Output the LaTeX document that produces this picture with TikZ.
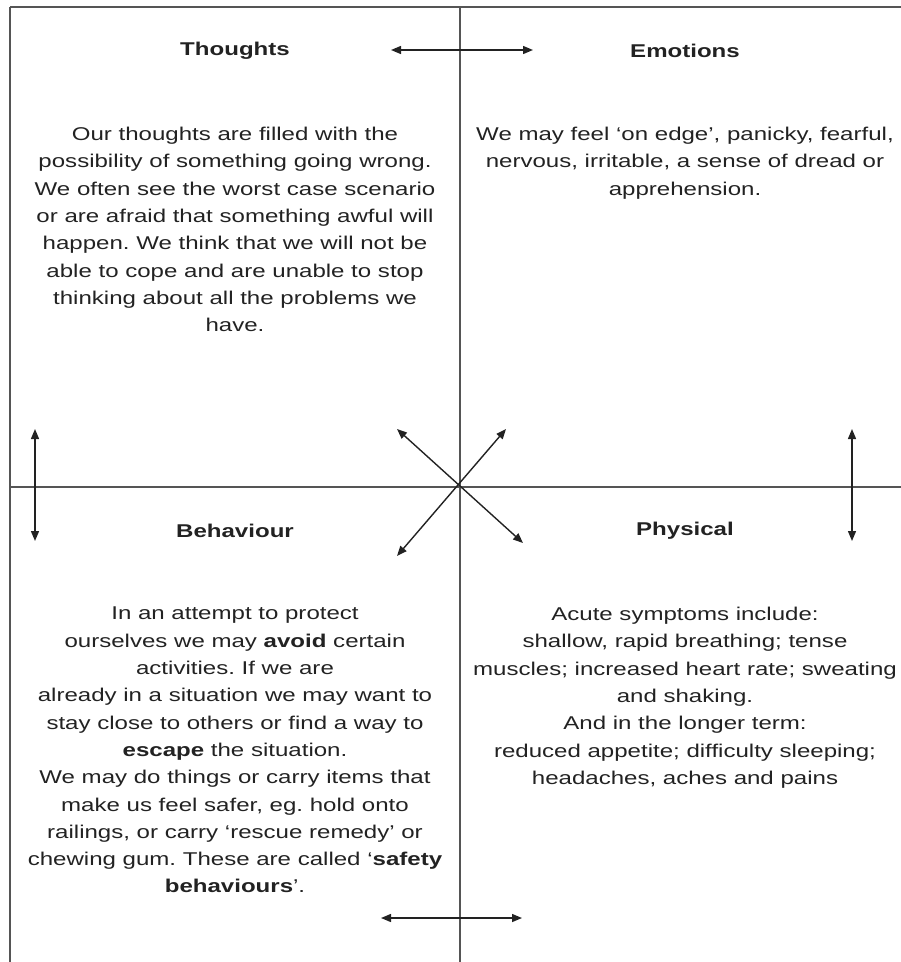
\documentclass[tikz,border=0pt]{standalone}
\usepackage{fontspec}
\setmainfont{Liberation Sans}[FakeStretch=1.3]
\usepackage{xcolor}
\usetikzlibrary{positioning,arrows.meta}
\definecolor{CBTink}{HTML}{222222}
\definecolor{CBTline}{HTML}{555555}
\tikzset{
  headtext/.style={font=\fontsize{18.5}{22}\selectfont\bfseries, text=CBTink, inner sep=0pt},
  bodytext/.style={font=\fontsize{18.5}{27.3}\selectfont, text=CBTink, align=center, inner sep=0pt, anchor=north},
  gridline/.style={draw=CBTline, line width=1.1pt},
  linkarr/.style={{Triangle[length=10pt,width=8pt]}-{Triangle[length=10pt,width=8pt]}, draw=CBTink, line width=1.4pt}
}
\frenchspacing

\begin{document}
\begin{tikzpicture}[x=1pt, y=-1pt]
\useasboundingbox (0,0) rectangle (901,962);
% frame and quadrant dividers
\coordinate (tl) at (10,7);
\coordinate (tr) at (901,7);
\coordinate (bl) at (10,962);
\coordinate (mt) at (460,7);
\coordinate (mb) at (460,962);
\coordinate (ml) at (10,487);
\coordinate (mr) at (901,487);
\draw[gridline, line width=1.6pt] (tl) -- (tr);
\draw[gridline] (tl) -- (bl);
\draw[gridline] (mt) -- (mb);
\draw[gridline] (ml) -- (mr);
% headings
\node[headtext] (thoughts) at (235,51) {Thoughts};
\node[headtext] (emotions) at (685,51) {Emotions};
\node[headtext] (behaviour) at (235,531) {Behaviour};
\node[headtext] (physical) at (685,531) {Physical};
% texts
\node[bodytext] (thoughtstxt) at (235,127) {Our thoughts are filled with the\\possibility of something going wrong.\\We often see the worst case scenario\\or are afraid that something awful will\\happen. We think that we will not be\\able to cope and are unable to stop\\thinking about all the problems we\\have.};
\node[bodytext] (emotionstxt) at (685,127) {We may feel `on edge', panicky, fearful,\\nervous, irritable, a sense of dread or\\apprehension.};
\node[bodytext] (behaviourtxt) at (235,607) {In an attempt to protect\\ourselves we may \textbf{avoid} certain\\activities. If we are\\already in a situation we may want to\\stay close to others or find a way to\\\textbf{escape} the situation.\\We may do things or carry items that\\make us feel safer, eg. hold onto\\railings, or carry `rescue remedy' or\\chewing gum. These are called `\textbf{safety}\\\textbf{behaviours}'.};
\node[bodytext] (physicaltxt) at (685,607) {Acute symptoms include:\\shallow, rapid breathing; tense\\muscles; increased heart rate; sweating\\and shaking.\\And in the longer term:\\reduced appetite; difficulty sleeping;\\headaches, aches and pains};
% arrow ends
\coordinate (topL) at (391,50);
\coordinate (topR) at (533,50);
\coordinate (botL) at (381,918);
\coordinate (botR) at (522,918);
\coordinate (leftT) at (35,429);
\coordinate (leftB) at (35,541);
\coordinate (rightT) at (852,429);
\coordinate (rightB) at (852,541);
\coordinate (dgTL) at (397,429);
\coordinate (dgBR) at (523,543);
\coordinate (dgTR) at (506,429);
\coordinate (dgBL) at (397,556);
% links between quadrants
\draw[linkarr] (topL) -- (topR);
\draw[linkarr] (botL) -- (botR);
\draw[linkarr] (leftT) -- (leftB);
\draw[linkarr] (rightT) -- (rightB);
\draw[linkarr] (dgTL) -- (dgBR);
\draw[linkarr] (dgTR) -- (dgBL);
\end{tikzpicture}
\end{document}
